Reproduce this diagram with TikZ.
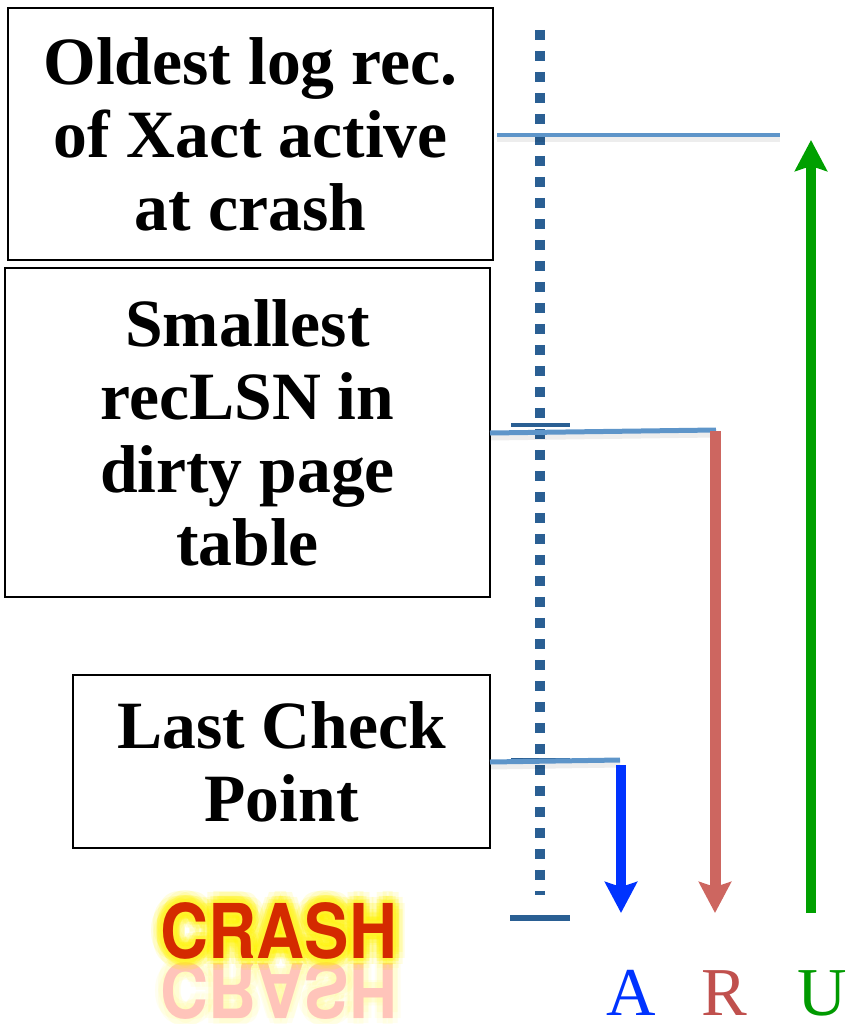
\documentclass[tikz,border=0pt]{standalone}
\usepackage{fontspec}
\setmainfont{Liberation Serif}
\newfontfamily\crashfont{TeX Gyre Heros}
\usetikzlibrary{arrows.meta,positioning}

\definecolor{logblue}{HTML}{2A5F93}
\definecolor{linkblue}{HTML}{5E95C9}
\definecolor{analysisblue}{HTML}{0033FF}
\definecolor{redored}{HTML}{CD6660}
\definecolor{undogreen}{HTML}{00A000}
\definecolor{labelred}{HTML}{C0504D}
\definecolor{labelgreen}{HTML}{009A00}
\definecolor{crashred}{HTML}{D42A00}
\definecolor{glowyellow}{HTML}{FFF200}

\begin{document}
\begin{tikzpicture}[
    x=0.02cm, y=-0.02cm,
    box/.style={draw,line width=1pt,align=center,inner sep=0pt,
      font=\fontsize{38.5}{41.5}\selectfont\bfseries},
    pass/.style={line width=0.2cm,-{Stealth[length=0.62cm,width=0.64cm,inset=0.1cm]}},
    link/.style={linkblue,line width=0.1cm},
    linkshadow/.style={black,opacity=0.07,line width=0.14cm,transform canvas={yshift=-0.08cm}},
    tick/.style={logblue,line width=0.08cm},
    letter/.style={anchor=base,font=\fontsize{39}{39}\selectfont},
    crashtext/.style={anchor=base,inner sep=0pt,xscale=0.88,transform shape,
      font=\fontsize{43}{43}\crashfont\bfseries}
]
\useasboundingbox (0,0) rectangle (847,1024);

% Boxes
\node[box,minimum width=9.7cm,minimum height=5.04cm] (oldest) at (250.5,134)
{Oldest log rec.\\of Xact active\\at crash};

\node[box,minimum width=9.7cm,minimum height=6.58cm] (reclsn) at (247.5,432.5)
{Smallest\\recLSN in\\dirty page\\table};

\node[box,minimum width=8.34cm,minimum height=3.46cm] (ckpt) at (281.5,761.5)
{Last Check\\Point};

% the log
\coordinate (logtop) at (540,30);
\coordinate (logend) at (540,895);
\draw[logblue,line width=0.2cm,dash pattern=on 0.2cm off 0.22cm] (logtop) -- (logend);

\draw[tick] (511,135) -- (570,135);
\draw[tick] (511,425) -- (570,425);
\draw[tick] (511,760) -- (570,760);
\draw[logblue,line width=0.12cm] (510,918) -- (570,918);

% links from boxes
\coordinate (oldestlink) at (497,135);
\coordinate (undotop) at (780,135);
\coordinate (reclsnlink) at (490,433);
\coordinate (redostart) at (716,430);
\coordinate (ckptlink) at (490,762);
\coordinate (analysisstart) at (620,760);

\draw[linkshadow] (oldestlink) -- (undotop);
\draw[linkshadow] (reclsnlink) -- (redostart);
\draw[linkshadow] (ckptlink) -- (analysisstart);
\draw[link] (oldestlink) -- (undotop);
\draw[link] (reclsnlink) -- (redostart);
\draw[link] (ckptlink) -- (analysisstart);

% passes
\coordinate (astart) at (621,765);
\coordinate (aend) at (621,913);
\coordinate (rstart) at (715,431);
\coordinate (rend) at (715,913);
\coordinate (ustart) at (811,913);
\coordinate (uend) at (811,140);

\draw[pass,analysisblue] (astart) -- (aend);
\draw[pass,redored,line width=0.22cm] (rstart) -- (rend);
\draw[pass,undogreen] (ustart) -- (uend);

\node[letter,analysisblue] (alabel) at (631,1015) {A};
\node[letter,labelred] (rlabel) at (724,1015) {R};
\node[letter,labelgreen] (ulabel) at (822,1015) {U};

% crash
\begin{scope}[shift={(279,963)},yscale=-1]
  \foreach \a in {0,45,...,315}
    \node[crashtext,glowyellow,opacity=0.06] at (\a:8) {CRASH};
  \node[crashtext,color={rgb,255:red,255;green,196;blue,186}] (mirror) at (0,0) {CRASH};
\end{scope}
\begin{scope}[shift={(279,958)}]
  \foreach \a in {0,30,...,330}
    \node[crashtext,glowyellow,opacity=0.12] at (\a:12) {CRASH};
  \foreach \a in {0,30,...,330}
    \node[crashtext,glowyellow,opacity=0.2] at (\a:7) {CRASH};
  \foreach \a in {0,45,...,315}
    \node[crashtext,glowyellow!80!white,opacity=0.4] at (\a:3) {CRASH};
  \node[crashtext,crashred] (crash) at (0,0) {CRASH};
\end{scope}

\end{tikzpicture}
\end{document}
